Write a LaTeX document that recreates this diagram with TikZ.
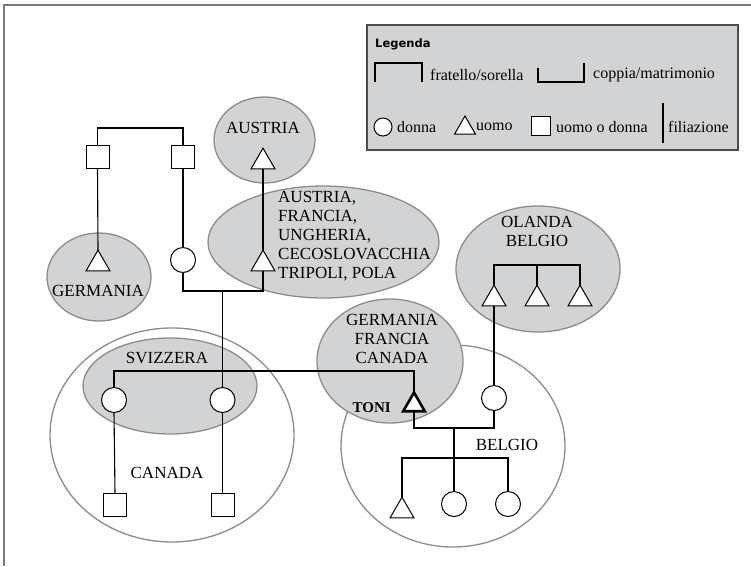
\documentclass[tikz,border=0pt]{standalone}
\usepackage{fontspec}
\setmainfont{Liberation Serif}
\newfontfamily\legfont{DejaVu Sans}
\usetikzlibrary{shapes.geometric}
\definecolor{regfill}{HTML}{D2D3D5}
\definecolor{regline}{HTML}{8C8C8C}
\definecolor{framecol}{HTML}{7A7A7A}
\tikzset{
  region/.style={ellipse, draw=regline, line width=1.3pt, fill=regfill, inner sep=0pt, outer sep=0pt},
  bigregion/.style={ellipse, draw=regline, line width=1.3pt, fill=white, inner sep=0pt, outer sep=0pt},
  lab/.style={font=\fontsize{17}{19}\selectfont, inner sep=0pt, align=center},
  leg/.style={font=\fontsize{16}{19}\selectfont, inner sep=0pt, anchor=west},
  sq/.style={rectangle, draw, fill=white, line width=1pt, minimum size=23pt, inner sep=0pt, outer sep=0pt},
  ci/.style={circle, draw, fill=white, line width=1pt, minimum size=25pt, inner sep=0pt, outer sep=0pt},
  tri/.style={regular polygon, regular polygon sides=3, draw, fill=white, line width=1pt, minimum size=27.7pt, inner sep=0pt, outer sep=0pt},
  link/.style={line width=1.1pt},
}
\begin{document}
\begin{tikzpicture}[x=1pt,y=-1pt]
\useasboundingbox (0,0) rectangle (751,566);
% frame
\draw[framecol, line width=1.8pt] (4,566) -- (4,5) -- (751,5);

% legend
\node[draw=black!70, line width=1.8pt, fill=regfill, minimum width=371pt, minimum height=125pt, anchor=north west, inner sep=0pt] (legend) at (366,24) {};
\node[font=\legfont\bfseries\fontsize{11.5}{13}\selectfont, anchor=west, inner sep=0pt] (legt) at (375,44) {Legenda};
\coordinate (ls1) at (375,82); \coordinate (ls2) at (422,82);
\draw[link] (ls1) -- ++(0,-19) -| (ls2);
\node[leg] (lfr) at (430,75) {fratello/sorella};
\coordinate (lc1) at (538,68); \coordinate (lc2) at (584,63);
\draw[link] (lc1) |- (561,82) -| (lc2);
\node[leg] (lcp) at (593,75) {coppia/matrimonio};
\node[ci, minimum size=18pt] (lci) at (383,127) {};
\node[leg] (ldo) at (397,127) {donna};
\node[tri, minimum size=24pt] (ltr) at (465,128) {};
\node[leg] (luo) at (476,127) {uomo};
\node[sq, minimum size=19pt] (lsq) at (541,126) {};
\node[leg] (luod) at (556,127) {uomo o donna};
\coordinate (lf1) at (663,103); \coordinate (lf2) at (663,143);
\draw[link] (lf1) -- (lf2);
\node[leg] (lfi) at (668,127) {filiazione};

% big white regions
\node[bigregion, minimum width=244pt, minimum height=214pt] (rCanada) at (172,435) {};
\node[bigregion, minimum width=224pt, minimum height=202pt] (rBelgio) at (453,446) {};
% grey regions
\node[region, minimum width=104pt, minimum height=88pt] (rGermania) at (99,277) {};
\node[region, minimum width=101pt, minimum height=86pt] (rAustria) at (264.5,140) {};
\node[region, minimum width=231pt, minimum height=112pt] (rAustria2) at (323.5,242) {};
\node[region, minimum width=174pt, minimum height=96pt] (rSvizzera) at (170,386) {};
\node[region, minimum width=146pt, minimum height=124pt] (rGFC) at (390,361) {};
\node[region, minimum width=164pt, minimum height=126pt] (rOlanda) at (538,269) {};

% region labels
\node[lab] (tGermania) at (98,291) {GERMANIA};
\node[lab] (tAustria) at (263,128) {AUSTRIA};
\node[lab, align=left, anchor=north west] (tAustria2) at (278,191) {AUSTRIA,\\FRANCIA,\\UNGHERIA,\\CECOSLOVACCHIA\\TRIPOLI, POLA};
\node[lab] (tSvizzera) at (167,358) {SVIZZERA};
\node[lab] (tCanada) at (167,473) {CANADA};
\node[lab, anchor=north] (tGFC) at (392,314) {GERMANIA\\FRANCIA\\CANADA};
\node[lab] (tBelgio) at (507,445) {BELGIO};
\node[lab, anchor=north] (tOlanda) at (537,216) {OLANDA\\BELGIO};
\node[font=\bfseries\fontsize{15}{18}\selectfont, inner sep=0pt, anchor=east] (tToni) at (391,408) {TONI};

% persons
\node[sq] (sqA) at (97.5,156.5) {};
\node[sq] (sqB) at (183,156.5) {};
\node[tri] (tG) at (98,264) {};
\node[ci] (cA) at (183,260) {};
\node[tri] (tAu1) at (263,162) {};
\node[tri] (tAu2) at (263,264) {};
\node[ci] (cS1) at (114,400) {};
\node[ci] (cS2) at (222.5,400) {};
\node[sq] (sqC) at (115,504.5) {};
\node[sq] (sqD) at (222.5,504.5) {};
\node[ci] (cT) at (494,398) {};
\node[tri] (tO1) at (494,299) {};
\node[tri] (tO2) at (537,299) {};
\node[tri] (tO3) at (580,299) {};
\node[tri] (tB) at (402,511) {};
\node[ci] (cB1) at (454,504) {};
\node[ci] (cB2) at (508,504) {};
\node[tri, line width=2.6pt, minimum size=25pt] (tT) at (414,405) {};

% connectors
\coordinate (barTop) at (140,128);
\draw[link] (sqA.north) |- (barTop) -| (sqB.north);
\draw[link] (sqA.south) -- (tG.north);
\draw[link] (sqB.south) -- (cA.north);
\draw[link] (tAu1.south) -- (tAu2.north);
\coordinate (mA) at (222.5,291);
\draw[link] (cA.south) |- (mA) -| (tAu2.south);
\draw[link] (mA) -- (cS2.north);
\coordinate (barS) at (300,371);
\draw[link] (cS1.north) |- (barS) -| (tT.north);
\draw[link] (cS1.south) -- (sqC.north);
\draw[link] (cS2.south) -- (sqD.north);
\coordinate (mT) at (454,428);
\draw[link] (tT.south) |- (mT) -| (cT.south);
\draw[link] (mT) -- (cB1.north);
\coordinate (barB) at (454,458);
\draw[link] (tB.north) |- (barB) -| (cB2.north);
\coordinate (barO) at (537,265);
\draw[link] (tO1.north) |- (barO) -| (tO3.north);
\draw[link] (barO) -- (tO2.north);
\draw[link] (tO1.south) -- (cT.north);
\end{tikzpicture}
\end{document}
